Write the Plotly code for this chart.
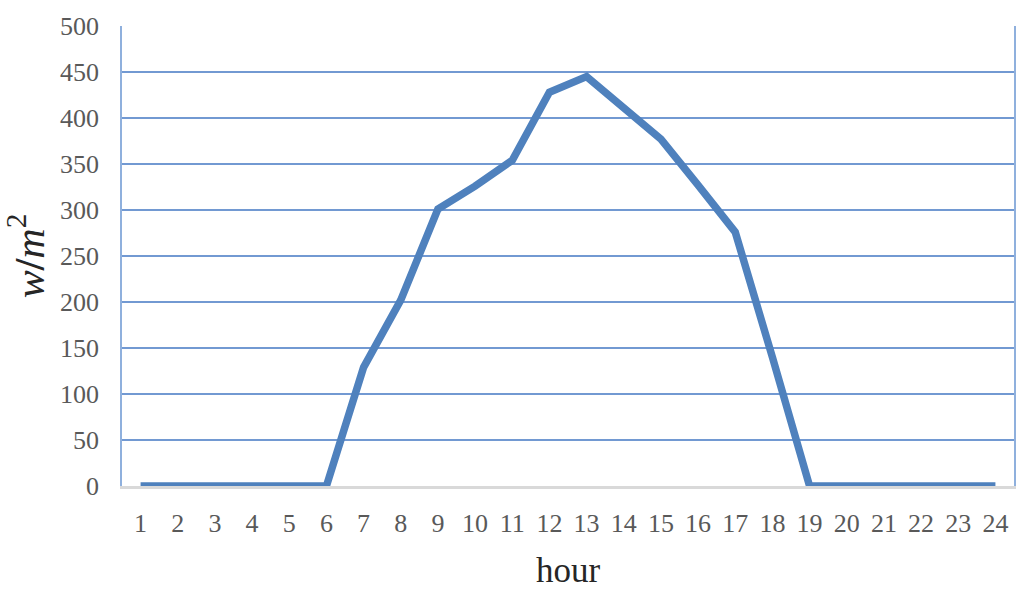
import plotly.graph_objects as go

hours = list(range(1, 25))
irradiance = [0, 0, 0, 0, 0, 0, 129, 202, 301, 326, 354, 428, 445, 411, 377, 327, 276, 140, 0, 0, 0, 0, 0, 0]
y_ticks = [0, 50, 100, 150, 200, 250, 300, 350, 400, 450, 500]

fig = go.Figure()
fig.add_trace(go.Scatter(
    x=hours, y=irradiance, mode="lines",
    line=dict(color="#4F81BD", width=7.5),
    showlegend=False,
))

fig.update_layout(
    width=1024, height=590,
    margin=dict(l=122, r=10, t=26, b=104),
    paper_bgcolor="white", plot_bgcolor="white",
    font=dict(family="Liberation Serif", color="#595959", size=26),
)
fig.update_xaxes(
    range=[0.5, 24.5], tickmode="array", tickvals=hours, ticktext=[str(h) for h in hours],
    showgrid=False, zeroline=False,
    showline=True, linecolor="#D9D9D9", linewidth=3,
    ticks="", ticklabelstandoff=12, automargin=False,
    title=dict(text="hour", font=dict(size=35, color="#262626"), standoff=22),
)
fig.update_yaxes(
    range=[0, 500], tickmode="array", tickvals=y_ticks,
    showgrid=True, gridcolor="#7299D2", gridwidth=1.5,
    zeroline=False,
    showline=True, linecolor="#8FB0DD", linewidth=1.5, mirror=True,
    ticks="", ticklabelstandoff=16, automargin=False,
    title=dict(text="<i>w</i><b>/</b><i>m</i><sup>2</sup>",
               font=dict(size=42, color="#262626", family="Liberation Serif"), standoff=14),
)

fig.write_html("out.html", config={"displayModeBar": False},
               post_script="document.body.style.margin='0';document.body.style.padding='0';")
